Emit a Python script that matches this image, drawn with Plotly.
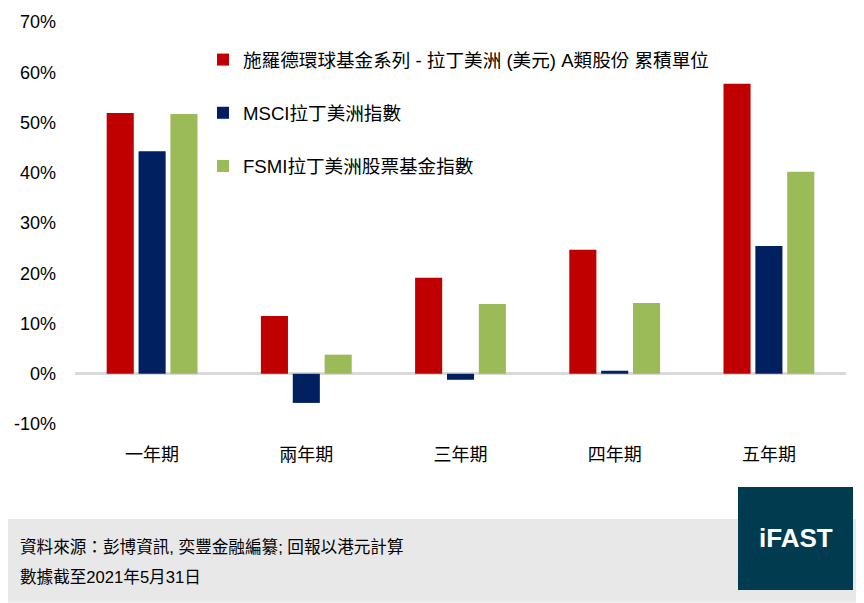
"""拉丁美洲基金 vs 指數 — 累積回報柱狀圖（Plotly）"""

import plotly.graph_objects as go

# ---------------------------------------------------------------------------
# 數據
# ---------------------------------------------------------------------------

periods = ["一年期", "兩年期", "三年期", "四年期", "五年期"]

fund_name = "施羅德環球基金系列 - 拉丁美洲 (美元) A類股份 累積單位"
msci_name = "MSCI拉丁美洲指數"
fsmi_name = "FSMI拉丁美洲股票基金指數"

fund_ret = [51.9, 11.5, 19.1, 24.7, 57.7]
msci_ret = [44.3, -5.8, -1.2, 0.6, 25.4]
fsmi_ret = [51.7, 3.8, 13.9, 14.1, 40.2]

y_ticks = [-10, 0, 10, 20, 30, 40, 50, 60, 70]
y_tick_text = ["-10%", "0%", "10%", "20%", "30%", "40%", "50%", "60%", "70%"]

source_line = "資料來源：彭博資訊, 奕豐金融編纂; 回報以港元計算"
date_line = "數據截至2021年5月31日"

# ---------------------------------------------------------------------------
# 版面（螢幕像素 → paper 座標；頁面 body 有 8px 邊距）
# ---------------------------------------------------------------------------

W, H = 864, 603
OFF = 8
FONT = "Liberation Sans, Arial, Noto Sans CJK TC, sans-serif"


def px_x(x):
    return max(0.0, (x - OFF) / W)


def px_y(y):
    return min(1.0, 1 - (y - OFF) / H)


fig = go.Figure()

series = [
    (fund_name, fund_ret, "#c00000"),
    (msci_name, msci_ret, "#002060"),
    (fsmi_name, fsmi_ret, "#9bbb59"),
]
for i, (name, vals, color) in enumerate(series):
    fig.add_trace(go.Bar(
        x=periods, y=vals, name=name,
        marker=dict(color=color, line=dict(width=0)),
        legendgroup=f"g{i}",
        hoverinfo="skip",
    ))

fig.update_layout(
    width=W, height=H,
    margin=dict(l=0, r=0, t=0, b=0, autoexpand=False),
    paper_bgcolor="#eeeeee",
    plot_bgcolor="rgba(0,0,0,0)",
    font=dict(family=FONT, size=18, color="#000000"),
    barmode="group",
    bargap=0.38,
    bargroupgap=0.15,
    showlegend=True,
    legend=dict(
        x=px_x(203), y=px_y(41), xanchor="left", yanchor="top",
        bgcolor="rgba(0,0,0,0)",
        font=dict(family=FONT, size=18.6, color="#000000"),
        tracegroupgap=26,
        traceorder="grouped",
        itemwidth=30,
    ),
    xaxis=dict(
        domain=[px_x(75), px_x(846)],
        automargin=False,
        showgrid=False, showline=False, zeroline=False,
        ticks="", ticklabelstandoff=18,
        tickfont=dict(family=FONT, size=18, color="#000000"),
        fixedrange=True,
    ),
    yaxis=dict(
        domain=[px_y(424), px_y(22)],
        automargin=False,
        range=[-10, 70],
        tickvals=y_ticks, ticktext=y_tick_text,
        showgrid=False, showline=False,
        zeroline=True, zerolinecolor="#d9d9d9", zerolinewidth=3,
        ticks="", ticklabelstandoff=18,
        tickfont=dict(family=FONT, size=18, color="#000000"),
        fixedrange=True,
    ),
    shapes=[
        # 白色圖表面板
        dict(type="rect", xref="paper", yref="paper", layer="below",
             x0=px_x(3), x1=px_x(859), y0=px_y(519), y1=px_y(3),
             fillcolor="#ffffff", line=dict(width=0)),
        # 底部灰色資料來源欄
        dict(type="rect", xref="paper", yref="paper", layer="below",
             x0=0, x1=1, y0=px_y(601), y1=px_y(519),
             fillcolor="#e8e8e8", line=dict(width=0)),
        # iFAST 標誌方塊
        dict(type="rect", xref="paper", yref="paper", layer="above",
             x0=px_x(738), x1=px_x(853), y0=px_y(590), y1=px_y(487),
             fillcolor="#003b4f", line=dict(width=0)),
    ],
    annotations=[
        dict(text=source_line, xref="paper", yref="paper",
             x=px_x(18), y=px_y(547), xanchor="left", yanchor="middle",
             showarrow=False, font=dict(family=FONT, size=16.6, color="#000000")),
        dict(text=date_line, xref="paper", yref="paper",
             x=px_x(18), y=px_y(577), xanchor="left", yanchor="middle",
             showarrow=False, font=dict(family=FONT, size=16.6, color="#000000")),
        dict(text="<b>iFAST</b>", xref="paper", yref="paper",
             x=px_x(796), y=px_y(538), xanchor="center", yanchor="middle",
             showarrow=False, font=dict(family=FONT, size=26, color="#ffffff")),
    ],
)

fig.write_html("out.html")
